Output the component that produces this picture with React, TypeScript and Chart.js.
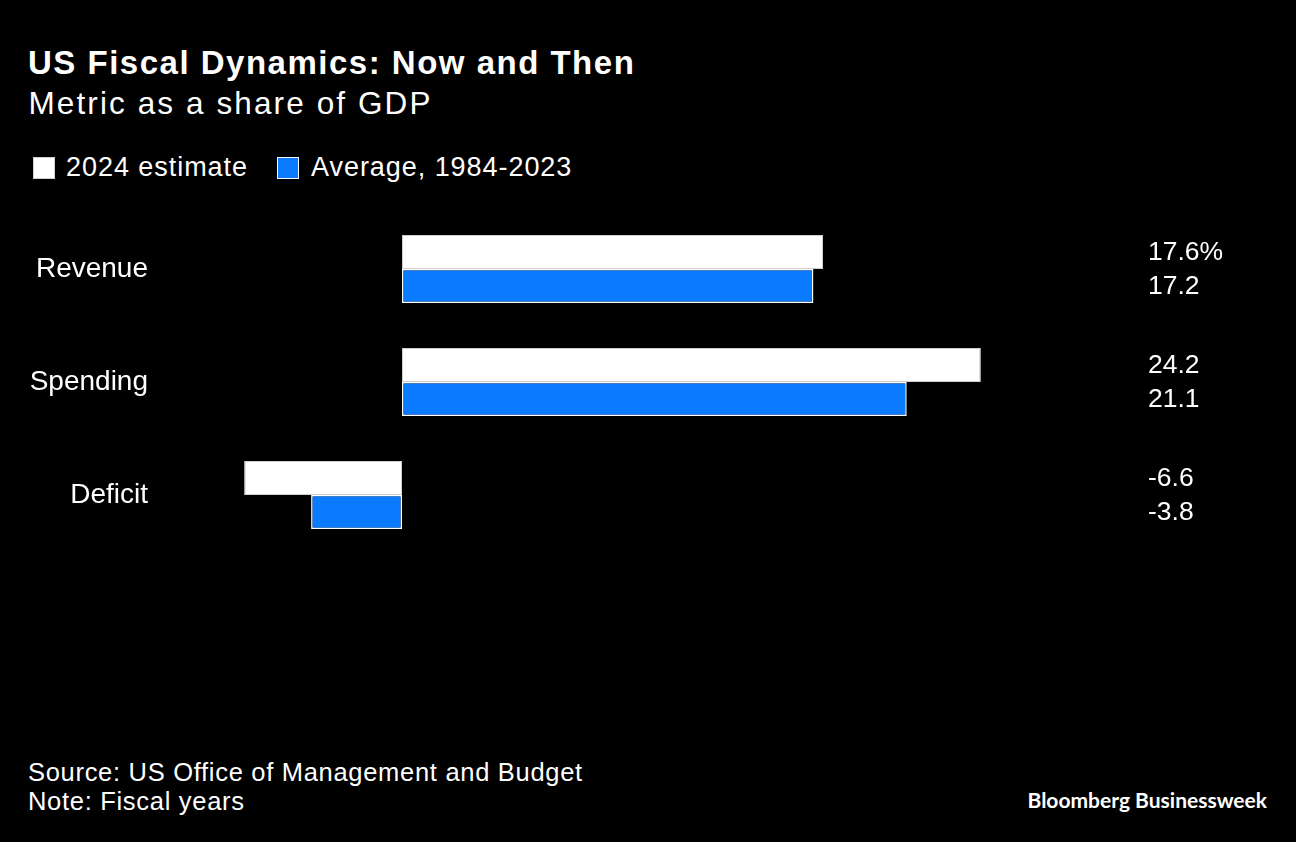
import React, { useEffect, useRef } from "react";
import { Chart, registerables } from "chart.js";

Chart.register(...registerables);

const categories = ["Revenue", "Spending", "Deficit"];
const estimate2024 = [17.6, 24.2, -6.6];
const average8423 = [17.2, 21.1, -3.8];
const estimateLabels = ["17.6%", "24.2", "-6.6"];
const averageLabels = ["17.2", "21.1", "-3.8"];
const seriesNames = ["2024 estimate", "Average, 1984-2023"];

const BLUE = "#0a7bff";
const FONT = "'Liberation Sans', Arial, Helvetica, sans-serif";

const valueLabelPlugin = {
  id: "valueLabels",
  afterDatasetsDraw(chart: any) {
    const ctx = chart.ctx;
    const sets = [estimateLabels, averageLabels];
    ctx.save();
    ctx.fillStyle = "#ffffff";
    ctx.font = `26.5px ${FONT}`;
    ctx.textAlign = "left";
    ctx.textBaseline = "middle";
    chart.data.datasets.forEach((_: any, di: number) => {
      const meta = chart.getDatasetMeta(di);
      meta.data.forEach((el: any, i: number) => {
        ctx.fillText(sets[di][i], 1148, el.y + 1);
      });
    });
    ctx.restore();
  },
};

export default function App() {
  const ref = useRef<HTMLCanvasElement | null>(null);

  useEffect(() => {
    if (!ref.current) return;
    const chart = new Chart(ref.current, {
      type: "bar",
      data: {
        labels: categories,
        datasets: [
          {
            label: seriesNames[0],
            data: estimate2024,
            backgroundColor: "#ffffff",
            borderColor: "#cfcfcf",
            borderWidth: 1,
            borderSkipped: false,
          },
          {
            label: seriesNames[1],
            data: average8423,
            backgroundColor: BLUE,
            borderColor: "#ffffff",
            borderWidth: 1.5,
            borderSkipped: false,
          },
        ],
      },
      options: {
        indexAxis: "y",
        responsive: false,
        maintainAspectRatio: false,
        animation: false,
        devicePixelRatio: 1,
        layout: { padding: { left: 0, right: 176.4, top: 12.5, bottom: 28.5 } },
        datasets: {
          bar: { categoryPercentage: 68 / 113, barPercentage: 1 },
        },
        scales: {
          x: { display: false, min: -10, max: 30 },
          y: {
            display: true,
            grid: { display: false, drawTicks: false },
            border: { display: false },
            ticks: {
              color: "#ffffff",
              padding: 14.8,
              font: { size: 28, family: FONT },
            },
            afterFit(scale: any) {
              scale.width = 162.8;
              scale.paddingTop = 0;
              scale.paddingBottom = 0;
            },
          },
        },
        plugins: {
          legend: { display: false },
          tooltip: { enabled: false },
          title: { display: false },
        },
      },
      plugins: [valueLabelPlugin],
    });
    return () => chart.destroy();
  }, []);

  const abs = (o: React.CSSProperties): React.CSSProperties => ({
    position: "absolute",
    whiteSpace: "nowrap",
    color: "#ffffff",
    fontFamily: FONT,
    lineHeight: 1,
    margin: 0,
    ...o,
  });

  return (
    <div
      style={{
        position: "absolute",
        left: 0,
        top: 0,
        width: 1296,
        height: 842,
        background: "#000000",
        overflow: "hidden",
      }}
    >
      <div style={abs({ left: 28, top: 45.6, fontSize: 33, fontWeight: 700, letterSpacing: 1.5 })}>
        US Fiscal Dynamics: Now and Then
      </div>
      <div style={abs({ left: 28.5, top: 87.5, fontSize: 31.5, letterSpacing: 2.1 })}>
        Metric as a share of GDP
      </div>
      <div style={abs({ left: 33, top: 157, width: 22, height: 22, background: "#ffffff", boxSizing: "border-box", border: "1px solid #cfcfcf" })} />
      <div style={abs({ left: 66, top: 153.8, fontSize: 27, letterSpacing: 0.95 })}>{seriesNames[0]}</div>
      <div style={abs({ left: 277, top: 157, width: 22, height: 22, background: BLUE, boxSizing: "border-box", border: "1.5px solid #ffffff" })} />
      <div style={abs({ left: 311, top: 153.8, fontSize: 27, letterSpacing: 0.95 })}>{seriesNames[1]}</div>

      <canvas
        ref={ref}
        width={1296}
        height={380}
        style={{ position: "absolute", left: 0, top: 200, width: 1296, height: 380 }}
      />

      <div style={abs({ left: 28, top: 760.4, fontSize: 25.5, letterSpacing: 0.7 })}>
        Source: US Office of Management and Budget
      </div>
      <div style={abs({ left: 28, top: 789.4, fontSize: 25.5, letterSpacing: 0.7 })}>
        Note: Fiscal years
      </div>
      <div style={abs({ right: 29, top: 789.2, fontSize: 21, fontWeight: 700, fontFamily: "Lato, 'Open Sans', sans-serif", textAlign: "right" })}>
        Bloomberg Businessweek
      </div>
    </div>
  );
}
